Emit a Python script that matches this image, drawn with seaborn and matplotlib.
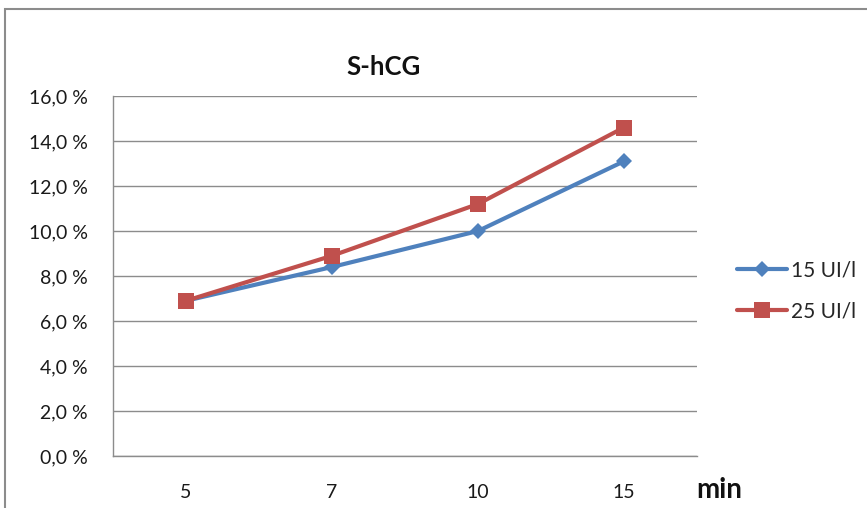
import matplotlib
matplotlib.use("Agg")
import matplotlib.pyplot as plt
from matplotlib.lines import Line2D
from matplotlib.patches import Rectangle
import pandas as pd
import seaborn as sns

# Data
minutes = ["5", "7", "10", "15"]
serie_15 = [6.9, 8.4, 10.0, 13.1]
serie_25 = [6.9, 8.9, 11.2, 14.6]
series_names = ["15 UI/l", "25 UI/l"]
y_ticks = [0, 2, 4, 6, 8, 10, 12, 14, 16]
y_tick_labels = ["0,0 %", "2,0 %", "4,0 %", "6,0 %", "8,0 %",
                 "10,0 %", "12,0 %", "14,0 %", "16,0 %"]

colors = ["#4F81BD", "#C0504D"]
markers = ["D", "s"]
marker_sizes = [8.5, 12]

df = pd.DataFrame({
    "min": minutes * 2,
    "pct": serie_15 + serie_25,
    "serie": [series_names[0]] * len(minutes) + [series_names[1]] * len(minutes),
})

sns.set_theme(style="white")
plt.rcParams["font.family"] = ["Lato", "DejaVu Sans"]

fig = plt.figure(figsize=(8.67, 5.08), dpi=100)
ax = fig.add_axes([113 / 867, 52 / 508, 584 / 867, 360 / 508])

sns.pointplot(data=df, x="min", y="pct", hue="serie", order=minutes,
              hue_order=series_names, palette=colors, markers=markers,
              linestyles=["-", "-"], errorbar=None, legend=False, ax=ax,
              dodge=False)

for ln, c, m, ms in zip(ax.lines, colors, markers, marker_sizes):
    ln.set_linewidth(3)
    ln.set_markersize(ms)
    ln.set_marker(m)
    ln.set_markeredgewidth(0)
    ln.set_color(c)
    ln.set_markerfacecolor(c)

ax.set_xlim(-0.5, 3.5)
ax.set_ylim(0, 16)
ax.set_yticks(y_ticks)
ax.set_yticklabels(y_tick_labels)
ax.yaxis.grid(True, color="#8C8C8C", linewidth=1)
ax.set_axisbelow(True)
ax.tick_params(axis="y", length=0, pad=18, labelsize=14, colors="#1A1A1A")
ax.tick_params(axis="x", length=0, pad=20, labelsize=14, colors="#1A1A1A")
ax.set_xlabel("")
ax.set_ylabel("")
for side in ["top", "right"]:
    ax.spines[side].set_visible(False)
for side in ["left", "bottom"]:
    ax.spines[side].set_color("#8C8C8C")
    ax.spines[side].set_linewidth(1)

fig.text(384 / 867, 1 - 67 / 508, "S-hCG", ha="center", va="center",
         fontsize=18.5, fontweight="bold", color="#111111")
fig.text(719 / 867, 1 - 490 / 508, "min", ha="center", va="center",
         fontsize=20, fontweight="bold", color="#111111")

handles = [Line2D([0], [0], color=c, linewidth=3, marker=m, markersize=ms,
                  markeredgewidth=0)
           for c, m, ms in zip(colors, markers, marker_sizes)]
fig.legend(handles, series_names, loc="center left",
           bbox_to_anchor=(718 / 867, 1 - 291 / 508), frameon=False,
           fontsize=15, handlelength=2.4, handletextpad=0.2,
           labelspacing=1.0)

# outer chart frame
fig.patches.append(Rectangle((5 / 867, -0.1), 2, 1 - 9 / 508 + 0.1,
                             transform=fig.transFigure, fill=False,
                             edgecolor="#8C8C8C", linewidth=1.5))

fig.savefig("out.png", dpi=100)
